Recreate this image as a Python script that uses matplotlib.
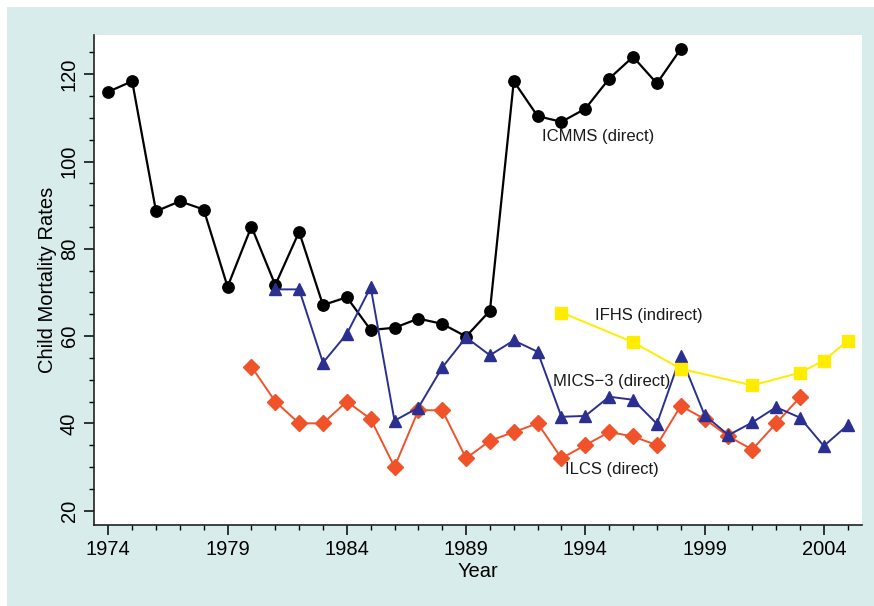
import matplotlib
matplotlib.use("Agg")
import matplotlib.pyplot as plt
from matplotlib.patches import Rectangle
from matplotlib.ticker import MultipleLocator

plt.rcParams['font.family'] = ['Liberation Sans', 'DejaVu Sans']

icmms_years = list(range(1974, 1999))
icmms_vals = [116, 118.4, 88.6, 90.9, 89.0, 71.3, 85.1, 71.7, 83.9, 67.1, 68.9,
              61.4, 61.9, 64.0, 62.8, 59.9, 65.8, 118.4, 110.4, 109.1, 112.1,
              119.0, 124.0, 117.9, 125.8]

mics_years = list(range(1981, 2006))
mics_vals = [70.7, 70.7, 53.9, 60.5, 71.2, 40.6, 43.6, 52.8, 59.7, 55.6, 59.0,
             56.4, 41.5, 41.7, 46.1, 45.4, 39.9, 55.4, 41.9, 37.3, 40.2, 43.7,
             41.3, 34.8, 39.6]

ilcs_years = list(range(1980, 2004))
ilcs_vals = [53, 45, 40, 40, 45, 41, 30, 43, 43, 32, 36, 38, 40, 32, 35, 38,
             37, 35, 44, 41, 37, 34, 40, 46]

ifhs_years = [1993, 1996, 1998, 2001, 2003, 2004, 2005]
ifhs_vals = [65.4, 58.6, 52.5, 48.7, 51.6, 54.4, 58.9]

labels = ["ICMMS (direct)", "MICS\u22123 (direct)", "ILCS (direct)", "IFHS (indirect)"]
label_pos = [(1992.18, 105.7), (1992.63, 49.6), (1993.15, 29.5), (1994.4, 64.6)]

xticks = [1974, 1979, 1984, 1989, 1994, 1999, 2004]
yticks = [20, 40, 60, 80, 100, 120]

fig = plt.figure(figsize=(8.74, 6.06), dpi=100)
fig.patch.set_facecolor('white')
fig.patches.append(Rectangle((7/874, 0), 1.1, 1 - 7/606, transform=fig.transFigure,
                             facecolor='#d9ecec', edgecolor='none', zorder=-10))

ax = fig.add_axes([94/874, 1 - 525/606, (862 - 94)/874, (525 - 35)/606])
ax.set_facecolor('white')

black = '#000000'
blue = '#2b3090'
orange = '#f0522a'
yellow = '#ffec00'

ax.plot(icmms_years, icmms_vals, color=black, lw=1.6, marker='o', ms=8.2, zorder=3)
ax.plot(ilcs_years, ilcs_vals, color=orange, lw=1.4, marker='D', ms=8.5, zorder=4)
ax.plot(mics_years, mics_vals, color=blue, lw=1.4, marker='^', ms=9, zorder=5)
ax.plot(ifhs_years, ifhs_vals, color=yellow, lw=1.4, marker='s', ms=8.5, zorder=6)

for lab, (x, y) in zip(labels, label_pos):
    ax.text(x, y, lab, fontsize=12, ha='left', va='center', color='#1a1a1a', zorder=7)

ax.set_xlim(1973.4, 2005.6)
ax.set_ylim(16.7, 129)
ax.set_xticks(xticks)
ax.set_xticklabels([str(t) for t in xticks])
ax.xaxis.set_minor_locator(MultipleLocator(1))
ax.set_yticks(yticks)
ax.set_yticklabels([str(t) for t in yticks], rotation=90, va='center')
ax.yaxis.set_minor_locator(MultipleLocator(5))

for s in ['top', 'right']:
    ax.spines[s].set_visible(False)
for s in ['left', 'bottom']:
    ax.spines[s].set_linewidth(1.2)
    ax.spines[s].set_color('#222222')

ax.tick_params(axis='both', which='major', length=7, width=1.1, labelsize=14.5, pad=4)
ax.tick_params(axis='both', which='minor', length=3.5, width=1.0)

ax.set_xlabel('Year', fontsize=14.5, labelpad=2)
ax.set_ylabel('Child Mortality Rates', fontsize=14.5, labelpad=2)

fig.savefig('out.png', dpi=100, facecolor=fig.get_facecolor())
